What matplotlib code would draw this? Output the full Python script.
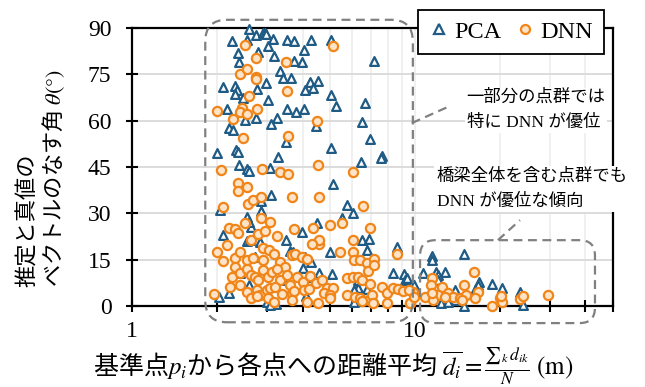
import matplotlib
matplotlib.use("Agg")
import matplotlib.pyplot as plt
from matplotlib.patches import FancyBboxPatch
from matplotlib.lines import Line2D

plt.rcParams['font.family'] = ['Liberation Serif', 'Noto Sans CJK JP']
plt.rcParams['mathtext.fontset'] = 'stix'

# PCA (triangles)
pca_x = [2.59, 2.75, 2.89, 2.94, 2.97, 2.25, 2.54, 3.14, 3.52, 3.74, 4.29, 5.03, 3.03, 2.78, 2.36,
         4.05, 3.16, 2.38, 3.74, 3.99, 7.17, 3.33, 3.41, 3.64, 4.08, 4.26, 4.52, 4.37, 2.10, 2.30,
         2.34, 2.30, 2.47, 2.76, 2.96, 2.16, 3.01, 4.05, 3.79, 5.05, 5.25, 6.66, 3.52, 6.48, 4.48,
         2.51, 2.74, 3.10, 3.24, 2.19, 2.27, 3.49, 6.93, 1.99, 2.32, 2.36, 5.03, 2.39, 2.54, 2.58,
         3.06, 3.28, 6.43, 7.65, 7.57, 3.10, 5.14, 2.85, 2.05, 5.74, 6.02, 5.53, 4.49, 3.97, 3.50,
         2.54, 2.64, 2.59, 2.10, 2.54, 2.83, 6.51, 6.89, 6.78, 8.61, 3.62, 4.08, 4.28, 4.03, 4.56,
         5.10, 2.41, 2.58, 2.02, 2.19, 2.99, 3.23, 6.06, 7.13, 8.38, 9.14, 9.71, 6.26, 6.30, 4.03,
         2.86, 2.61, 3.69, 3.42, 4.11, 3.07, 2.72, 5.01, 9.22, 6.06, 6.75, 4.37,
         11.5, 11.5, 14.9, 10.7, 11.9, 12.1, 12.8, 12.1, 16.8, 16.7, 18.7, 20.3, 23.5, 9.35, 9.92,
         24.1, 14.9, 12.4, 13.8, 13.8, 16.3, 13.1]
pca_y = [89.6, 87.7, 88.3, 88.3, 87.9, 85.9, 86.1, 86.3, 86.1, 85.9, 86.1, 86.1, 84.2, 82.3, 82.0,
         82.9, 80.9, 79.1, 79.3, 79.1, 79.3, 75.9, 73.7, 73.7, 69.9, 72.6, 72.8, 70.5, 70.8, 71.2,
         69.9, 68.5, 67.4, 70.1, 72.3, 63.8, 66.7, 63.8, 62.9, 68.3, 64.7, 65.6, 63.7, 59.7, 58.1,
         60.2, 60.7, 58.9, 60.7, 57.5, 57.0, 53.2, 54.0, 49.4, 50.5, 50.0, 51.3, 45.6, 44.2, 43.7,
         44.6, 48.3, 46.5, 48.7, 47.8, 35.9, 39.5, 34.0, 31.1, 32.7, 30.0, 28.4, 27.0, 24.1, 21.4,
         28.7, 25.7, 27.3, 23.0, 21.1, 20.8, 21.4, 21.6, 18.1, 19.2, 17.9, 16.0, 14.4, 12.2, 10.8,
         10.4, 10.6, 6.8, 3.0, 4.3, 1.4, 0.6, 1.4, 1.9, 10.6, 10.4, 6.8, 8.6, 6.0, 6.3,
         30.9, 21.4, 17.6, 8.4, 3.2, 0.3, 16.0, 17.6, 8.6, 5.2, 5.4, 9.5,
         16.2, 14.9, 16.8, 10.6, 11.1, 10.0, 11.1, 8.4, 7.9, 6.8, 7.1, 5.7, 4.6, 9.0, 6.8,
         0.3, 0.0, 1.0, 5.2, 1.9, 5.2, 1.4]

# DNN (circles)
dnn_x = [2.51, 5.14, 2.75, 3.50, 2.41, 2.54, 2.73, 2.75, 3.52, 2.58, 2.00, 2.27, 2.45, 2.40, 2.54,
         2.76, 4.49, 2.46, 3.54, 2.06, 2.87, 3.33, 3.54, 4.52, 6.03, 2.36, 2.36, 2.54, 2.56, 2.68,
         2.10, 2.85, 3.67, 4.58, 6.57, 2.51, 2.85, 3.06, 2.19, 2.31, 2.36, 2.64, 2.78, 2.95, 3.26,
         3.72, 4.37, 5.01, 5.50, 6.93, 1.99, 2.16, 2.09, 2.31, 2.41, 2.54, 2.67, 2.91, 2.91, 3.05,
         3.17, 3.33, 3.47, 3.67, 3.77, 3.97, 4.16, 4.59, 4.59, 4.31, 5.43, 6.03, 6.03, 6.06, 6.39,
         6.75, 6.84, 7.13, 7.13, 8.61, 2.31, 2.25, 2.41, 2.54, 2.64, 2.71, 2.79, 2.91, 3.03, 3.11,
         3.24, 3.33, 3.52, 3.62, 3.82, 4.03, 4.26, 4.47, 4.68, 4.87, 5.14, 5.74, 6.03, 6.26, 6.51,
         6.93, 2.21, 2.41, 2.54, 2.76, 2.83, 2.99, 3.07, 3.20, 3.38, 3.67, 3.72, 4.05, 4.20, 4.77,
         5.01, 5.74, 6.14, 6.39, 6.89, 7.03, 7.08, 7.61, 7.94, 7.98, 8.38, 8.73, 9.09, 9.60, 9.86,
         1.95, 2.64, 2.76, 3.03, 3.16, 3.67, 4.14, 4.52, 5.01, 6.48,
         11.5, 11.4, 12.5, 13.1, 13.6, 12.1, 10.8, 11.6, 11.5, 14.9, 16.1, 16.7, 16.3, 14.4, 15.2,
         18.7, 20.0, 20.3, 20.2, 23.5, 24.1, 29.6, 9.5, 9.6, 9.9, 12.8, 14.6]
dnn_y = [84.5, 84.2, 80.4, 79.1, 75.1, 76.7, 74.0, 73.5, 69.7, 67.8, 63.2, 60.4, 64.2, 62.9, 62.2,
         63.8, 59.9, 54.5, 55.0, 44.0, 44.3, 43.5, 42.7, 45.6, 43.5, 39.9, 37.2, 38.6, 33.0, 34.3,
         32.2, 35.4, 35.4, 35.4, 32.4, 27.0, 28.4, 27.1, 25.4, 24.8, 23.8, 21.4, 23.2, 24.3, 22.8,
         24.8, 25.4, 26.2, 27.0, 25.2, 17.6, 19.7, 14.7, 15.6, 17.6, 14.9, 15.6, 14.9, 18.7, 18.1,
         16.8, 14.4, 12.7, 16.5, 17.0, 16.0, 15.1, 20.1, 21.4, 20.1, 17.6, 21.4, 17.6, 14.9, 14.9,
         13.8, 11.4, 15.4, 13.3, 17.0, 12.7, 9.5, 10.6, 11.9, 10.0, 9.5, 8.4, 11.7, 9.5, 11.1,
         11.9, 8.6, 10.0, 6.8, 9.5, 7.9, 9.7, 7.6, 8.6, 5.7, 6.0, 9.2, 9.5, 9.5, 8.6,
         7.3, 6.3, 6.8, 4.6, 5.2, 3.6, 5.2, 5.7, 6.3, 3.9, 4.1, 5.0, 5.2, 5.4, 4.1,
         3.6, 3.6, 3.0, 2.7, 1.9, 3.6, 0.9, 6.3, 4.1, 0.9, 6.0, 5.4, 5.0, 0.9, 4.6,
         3.8, 2.7, 3.2, 2.5, 1.4, 1.9, 1.4, 1.1, 2.7, 1.6,
         9.0, 6.8, 6.1, 4.3, 3.0, 3.6, 3.0, 1.9, 4.1, 6.8, 11.1, 4.6, 2.5, 2.5, 3.6,
         0.0, 2.5, 1.4, 3.3, 2.2, 3.3, 3.6, 5.2, 0.9, 3.0, 3.0, 1.9]

yticks = [0, 15, 30, 45, 60, 75, 90]
minor_x = [2, 3, 4, 5, 6, 7, 8, 9, 20, 30, 40, 50]

pca_col = '#1f5b85'
dnn_col = '#f08519'
dnn_face = '#fde3c8'

fig = plt.figure(figsize=(6.45, 3.87), dpi=100)
ax = fig.add_axes([0.205, 0.209, 0.745, 0.719])

ax.scatter(pca_x, pca_y, marker='^', s=40, facecolor='white', edgecolor=pca_col,
           linewidth=1.6, zorder=3, clip_on=False)
ax.scatter(dnn_x, dnn_y, marker='o', s=44, facecolor=dnn_face, edgecolor=dnn_col,
           linewidth=1.6, zorder=4, clip_on=False)

ax.set_xscale('log')
ax.set_xlim(1, 50)
ax.set_ylim(0, 90)
ax.set_xticks([1, 10])
ax.set_xticklabels(['1', '10'])
ax.set_xticks(minor_x, minor=True)
ax.set_xticklabels([], minor=True)
ax.set_yticks(yticks)
ax.tick_params(axis='both', which='both', direction='inout', length=8, width=1.5,
               labelsize=17, color='black')
ax.tick_params(axis='x', which='major', pad=7)
ax.tick_params(axis='y', which='major', pad=11)
ax.set_axisbelow(True)
ax.grid(axis='y', which='major', color='#d9d9d9', linewidth=1.3)
ax.grid(axis='x', which='both', color='#ececec', linewidth=1.1)
for sp in ax.spines.values():
    sp.set_linewidth(1.6)
ax.spines['right'].set_zorder(6)

# legend
h1 = Line2D([], [], marker='^', ls='none', markersize=6.5, markerfacecolor='white',
            markeredgecolor=pca_col, markeredgewidth=1.6)
h2 = Line2D([], [], marker='o', ls='none', markersize=6.5, markerfacecolor=dnn_face,
            markeredgecolor=dnn_col, markeredgewidth=1.6)
leg = ax.legend([h1, h2], ['PCA', 'DNN'], loc='upper right', bbox_to_anchor=(0.981, 1.065),
                borderaxespad=0, ncol=2, frameon=True, fancybox=False, edgecolor='black',
                framealpha=1, fontsize=17.5, handletextpad=0.15, columnspacing=0.55,
                borderpad=0.45, handlelength=0.9)
leg.get_frame().set_linewidth(1.3)
leg.set_zorder(8)

# dashed rounded boxes
dash = (0, (4, 2.5))
box1 = FancyBboxPatch((0.152, -0.058), 0.432, 1.087, boxstyle='round,pad=0,rounding_size=0.045',
                      mutation_aspect=1.73, transform=ax.transAxes, fill=False,
                      edgecolor='#808080', linewidth=1.6, linestyle=dash, clip_on=False, zorder=5)
box2 = FancyBboxPatch((0.599, -0.061), 0.364, 0.298, boxstyle='round,pad=0,rounding_size=0.032',
                      mutation_aspect=1.73, transform=ax.transAxes, fill=False,
                      edgecolor='#808080', linewidth=1.6, linestyle=dash, clip_on=False, zorder=5)
ax.add_patch(box1)
ax.add_patch(box2)
ax.plot([0.582, 0.661], [0.658, 0.719], transform=ax.transAxes, color='#808080',
        lw=1.6, ls=dash, clip_on=False, zorder=5)
ax.plot([0.761, 0.807], [0.237, 0.309], transform=ax.transAxes, color='#808080',
        lw=1.6, ls=dash, clip_on=False, zorder=5)

ax.text(0.696, 0.703, '一部分の点群では\n特に DNN が優位', transform=ax.transAxes,
        ha='left', va='center', fontsize=12.5, linespacing=1.75, zorder=5,
        bbox=dict(boxstyle='square,pad=0.1', facecolor='white', edgecolor='none'))
ax.text(0.634, 0.421, '橋梁全体を含む点群でも\nDNN が優位な傾向', transform=ax.transAxes,
        ha='left', va='center', fontsize=12.5, linespacing=1.75, zorder=7,
        bbox=dict(boxstyle='square,pad=0.15', facecolor='white', edgecolor='none'))

# axis labels
fig.text(0.064, 0.54, '推定と真値の\nベクトルのなす角 $\\theta(°)$', rotation=90,
         ha='center', va='center', multialignment='left', fontsize=16,
         family='Noto Sans CJK JP', linespacing=1.05)
fig.text(0.516, 0.053,
         '基準点$p_i$から各点への距離平均 $\\overline{d_i} = \\frac{{\\sum}_k\\, d_{ik}}{N}$ $\\mathrm{(m)}$',
         ha='center', va='center', fontsize=18, family='Noto Sans CJK JP')

fig.savefig('out.png', dpi=100)
